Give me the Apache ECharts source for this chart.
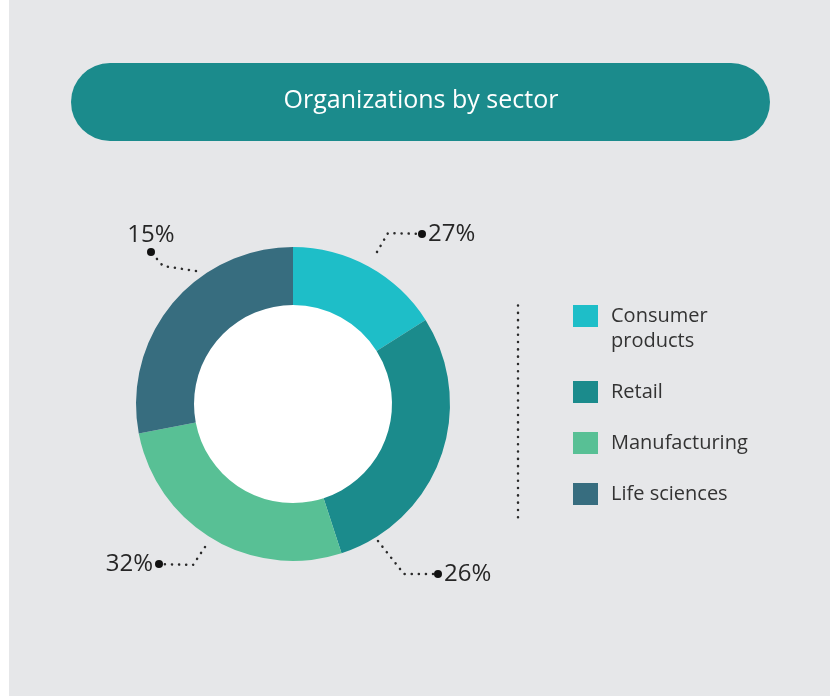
<!DOCTYPE html>
<html>
<head>
<meta charset="utf-8">
<script src="https://cdn.jsdelivr.net/npm/echarts@6/dist/echarts.min.js"></script>
<style>
  html, body { margin: 0; padding: 0; background: #ffffff; }
  #chart { width: 830px; height: 696px; }
</style>
</head>
<body>
<div id="chart"></div>
<script>
// ---- data ----
const categories = ['Consumer products', 'Retail', 'Manufacturing', 'Life sciences'];
const sliceValues = [16, 29, 27, 28];            // slice sizes as drawn
const percentLabels = ['27%', '26%', '32%', '15%']; // printed callouts
const legendLabels = ['\nConsumer\nproducts', 'Retail', 'Manufacturing', 'Life sciences'];
const titleText = 'Organizations by sector';

// ---- styles / layout ----
const colors = ['#1ebec8', '#1b8b8c', '#58c095', '#376d7f'];
const FONT = '"Open Sans", "Noto Sans", sans-serif';
const leaders = [
  { pts: [[377, 252], [388, 233], [422, 234]], x: 418, y: 234, align: 'left',   va: 'middle', side: 'right' },
  { pts: [[378, 541], [404, 574], [438, 574]], x: 434, y: 574, align: 'left',   va: 'middle', side: 'right' },
  { pts: [[205, 547], [193, 565], [159, 564]], x: 163, y: 564, align: 'right',  va: 'middle', side: 'left' },
  { pts: [[196, 271], [163, 266], [151, 252]], x: 151, y: 256, align: 'center', va: 'bottom', side: 'top' }
];

const chart = echarts.init(document.getElementById('chart'), null, { renderer: 'canvas' });

const option = {
  animation: false,
  color: colors,
  graphic: [
    { type: 'rect', z: -10, silent: true, shape: { x: 9, y: 0, width: 821, height: 696 }, style: { fill: '#e6e7e9' } },
    { type: 'circle', z: -9, silent: true, shape: { cx: 293, cy: 404, r: 100 }, style: { fill: '#ffffff' } },
    { type: 'rect', z: -5, silent: true, shape: { x: 71, y: 63, width: 699, height: 78, r: 39 }, style: { fill: '#1b8b8c' } },
    { type: 'text', z: -4, silent: true, x: 421, y: 101,
      style: { text: titleText, fill: '#ffffff', font: 'normal 25px ' + FONT, align: 'center', verticalAlign: 'middle' } },
    { type: 'line', silent: true, shape: { x1: 518, y1: 305.5, x2: 518, y2: 524 },
      style: { stroke: '#2a2a2a', lineWidth: 2.5, lineDash: [0.1, 7.2], lineCap: 'round' } }
  ],
  legend: {
    orient: 'vertical',
    left: 573,
    top: 278.5,
    padding: 0,
    itemWidth: 25,
    itemHeight: 22,
    itemGap: 26,
    icon: 'rect',
    selectedMode: false,
    data: categories,
    formatter: function (name) { return legendLabels[categories.indexOf(name)]; },
    textStyle: { fontFamily: FONT, fontSize: 20, color: '#333333', lineHeight: 25, padding: [0, 0, 0, 8] }
  },
  series: [{
    type: 'pie',
    center: [293, 404],
    radius: [99, 157],
    startAngle: 90,
    clockwise: true,
    silent: true,
    emphasis: { disabled: true },
    data: categories.map(function (c, i) { return { name: c, value: sliceValues[i] }; }),
    label: {
      show: true,
      position: 'outside',
      formatter: function (p) {
        const t = percentLabels[p.dataIndex];
        const s = leaders[p.dataIndex].side;
        if (s === 'right') return '{d|}{t|' + t + '}';
        if (s === 'left') return '{t|' + t + '}{d|}';
        return '{t|' + t + '}\n{d|}';
      },
      rich: {
        t: { fontFamily: FONT, fontSize: 24, color: '#262626', lineHeight: 26, padding: [0, 2, 0, 2], verticalAlign: 'middle' },
        d: { width: 8, height: 8, borderRadius: 4, backgroundColor: '#111111', verticalAlign: 'middle' }
      }
    },
    labelLine: {
      show: true,
      lineStyle: { color: '#2a2a2a', width: 2.5, type: [0.1, 7], cap: 'round' }
    },
    labelLayout: function (params) {
      const g = leaders[params.dataIndex];
      return { x: g.x, y: g.y, align: g.align, verticalAlign: g.va, labelLinePoints: g.pts };
    }
  }]
};

chart.setOption(option);
</script>
</body>
</html>
